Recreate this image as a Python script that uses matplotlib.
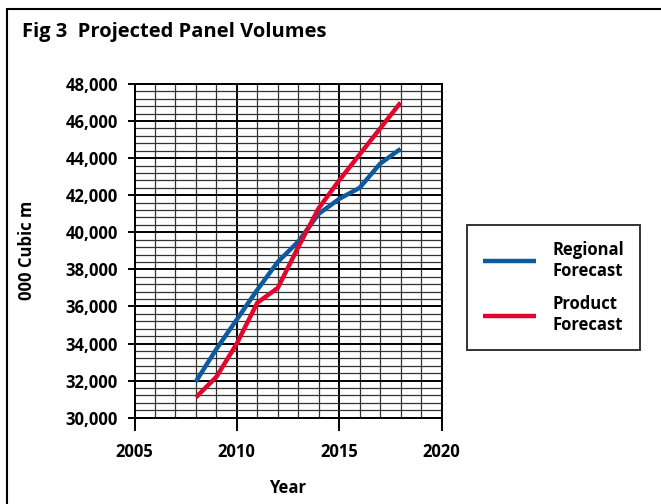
import matplotlib
matplotlib.use('Agg')
import matplotlib.pyplot as plt
from matplotlib.patches import Rectangle
from matplotlib.ticker import MultipleLocator, FuncFormatter

# data
years = [2008, 2009, 2010, 2011, 2012, 2013, 2014, 2015, 2016, 2017, 2018]
regional = [31950, 33700, 35300, 36900, 38400, 39500, 41000, 41800, 42400, 43700, 44500]
product = [31100, 32200, 34000, 36200, 37000, 39200, 41300, 42800, 44200, 45600, 47000]
series_names = ['Regional\nForecast', 'Product\nForecast']
series_colors = ['#0b5b9e', '#e2062c']

title = 'Fig 3  Projected Panel Volumes'
xlabel = 'Year'
ylabel = '000 Cubic m'

plt.rcParams['font.family'] = ['Open Sans', 'DejaVu Sans']
plt.rcParams['font.weight'] = 'bold'

W, H = 661, 504
fig = plt.figure(figsize=(W / 100, H / 100), dpi=100)

# outer frame (runs off the right and bottom edges)
fig.patches.append(Rectangle((6.5 / W, -0.05), 1.1, 1 - 8.5 / H + 0.05,
                             transform=fig.transFigure, fill=False,
                             edgecolor='black', linewidth=1.5))

ax = fig.add_axes([134.5 / W, 1 - 417.7 / H, 307 / W, 333.7 / H])

for vals, name, col in zip([regional, product], series_names, series_colors):
    ax.plot(years, vals, color=col, linewidth=3.2, label=name,
            solid_joinstyle='round', solid_capstyle='butt', zorder=5)

ax.set_xlim(2005, 2020)
ax.set_ylim(30000, 48000)
ax.xaxis.set_major_locator(MultipleLocator(5))
ax.xaxis.set_minor_locator(MultipleLocator(1))
ax.yaxis.set_major_locator(MultipleLocator(2000))
ax.yaxis.set_minor_locator(MultipleLocator(400))
ax.yaxis.set_major_formatter(FuncFormatter(lambda v, p: f'{int(v):,}'))

ax.grid(which='minor', color='#333333', linewidth=0.9)
ax.grid(which='major', color='black', linewidth=1.4)
ax.set_axisbelow(True)
for s in ax.spines.values():
    s.set_linewidth(1.4)

ax.tick_params(axis='x', which='major', direction='out', length=9, width=1.4,
               pad=9, labelsize=12)
ax.tick_params(axis='y', which='major', direction='out', length=5, width=1.4,
               pad=7, labelsize=12)
ax.tick_params(which='minor', length=0)

ax.set_xlabel(xlabel, fontsize=12, fontweight='bold', labelpad=13)
ax.set_ylabel(ylabel, fontsize=12, fontweight='bold', labelpad=21)

fig.text(22 / W, 1 - 32 / H, title, fontsize=14.5, fontweight='bold',
         ha='left', va='center')

leg = ax.legend(loc='upper left', bbox_to_anchor=(467 / W, 1 - 225 / H),
                bbox_transform=fig.transFigure, frameon=True, fancybox=False,
                edgecolor='black', fontsize=12, handlelength=3.2,
                handletextpad=1.0, labelspacing=0.95, borderpad=0.95,
                borderaxespad=0)
leg.get_frame().set_linewidth(1.4)

fig.savefig('out.png', dpi=100)
